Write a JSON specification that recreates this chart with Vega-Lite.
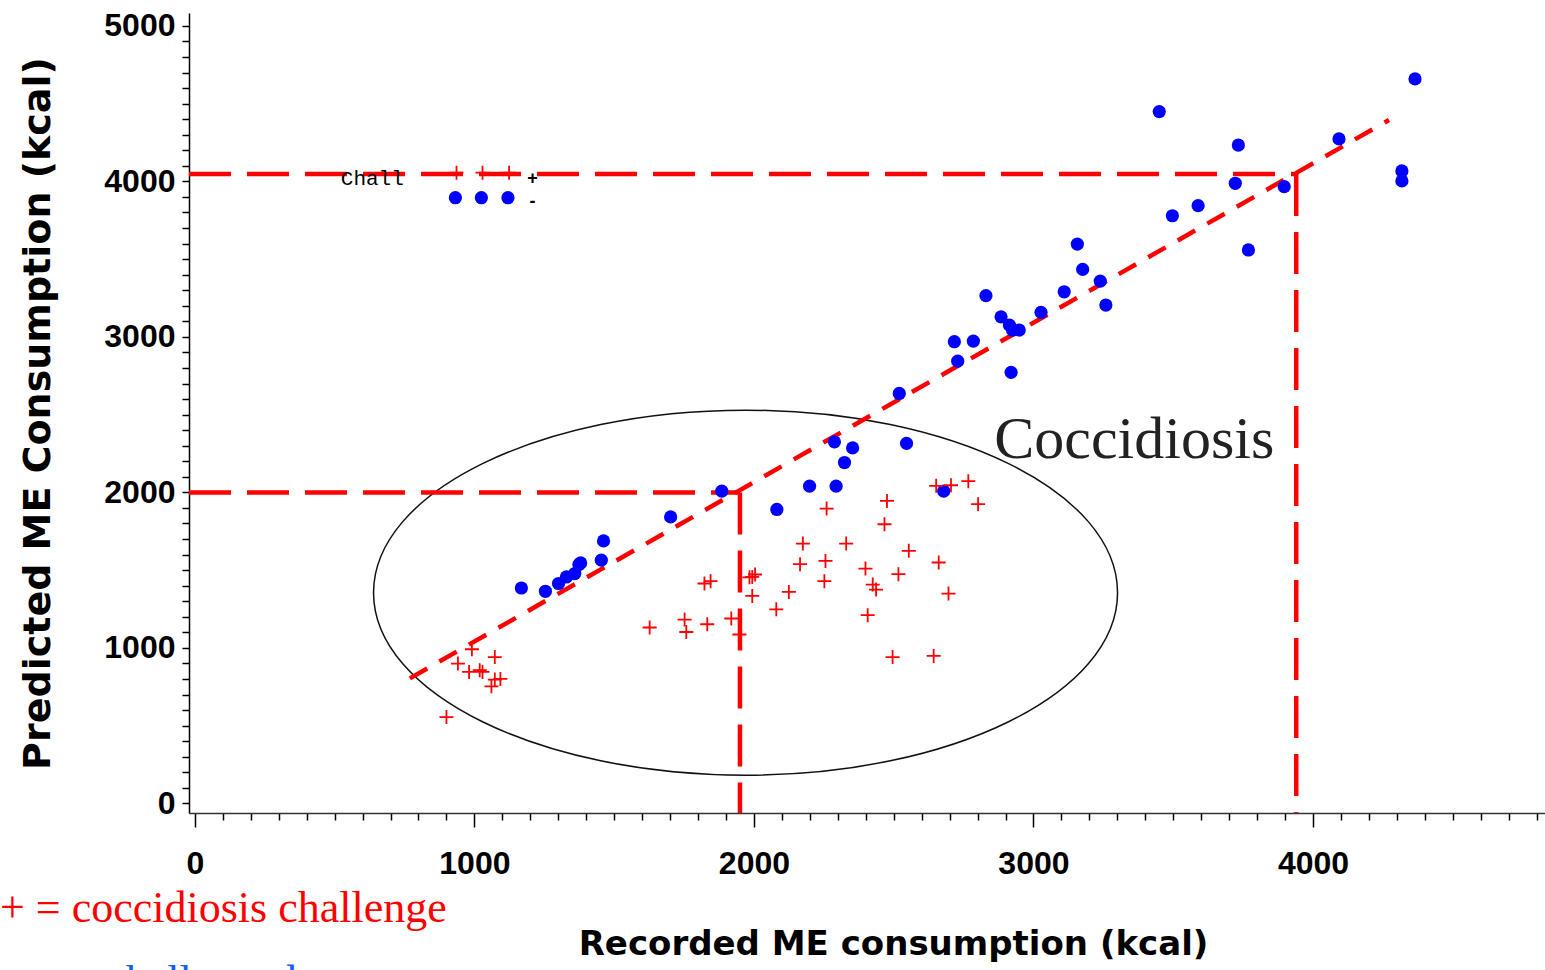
{
  "$schema": "https://vega.github.io/schema/vega-lite/v6.json",
  "width": 1356,
  "height": 800,
  "autosize": {"type": "none"},
  "padding": {"left": 189, "top": 13, "right": 0, "bottom": 157},
  "background": "white",
  "config": {"view": {"stroke": null}},
  "datasets": {
    "pts": [
      {"x": 991, "y": 991, "g": "c"}, {"x": 941, "y": 899, "g": "c"}, {"x": 981, "y": 845, "g": "c"}, {"x": 1019, "y": 856, "g": "c"},
      {"x": 1029, "y": 845, "g": "c"}, {"x": 1073, "y": 941, "g": "c"}, {"x": 1061, "y": 753, "g": "c"}, {"x": 1073, "y": 796, "g": "c"},
      {"x": 1093, "y": 800, "g": "c"}, {"x": 900, "y": 555, "g": "c"}, {"x": 1627, "y": 1131, "g": "c"}, {"x": 1752, "y": 1182, "g": "c"},
      {"x": 1758, "y": 1102, "g": "c"}, {"x": 1833, "y": 1152, "g": "c"}, {"x": 1823, "y": 1414, "g": "c"}, {"x": 1845, "y": 1429, "g": "c"},
      {"x": 1919, "y": 1189, "g": "c"}, {"x": 1948, "y": 1086, "g": "c"}, {"x": 1994, "y": 1456, "g": "c"}, {"x": 2004, "y": 1472, "g": "c"},
      {"x": 1994, "y": 1334, "g": "c"}, {"x": 1984, "y": 1454, "g": "c"}, {"x": 2080, "y": 1248, "g": "c"}, {"x": 2125, "y": 1360, "g": "c"},
      {"x": 2165, "y": 1538, "g": "c"}, {"x": 2175, "y": 1671, "g": "c"}, {"x": 2256, "y": 1559, "g": "c"}, {"x": 2252, "y": 1429, "g": "c"},
      {"x": 2260, "y": 1896, "g": "c"}, {"x": 2330, "y": 1671, "g": "c"}, {"x": 2399, "y": 1510, "g": "c"}, {"x": 2425, "y": 1407, "g": "c"},
      {"x": 2437, "y": 1375, "g": "c"}, {"x": 2407, "y": 1210, "g": "c"}, {"x": 2467, "y": 1795, "g": "c"}, {"x": 2476, "y": 1945, "g": "c"},
      {"x": 2517, "y": 1474, "g": "c"}, {"x": 2554, "y": 1624, "g": "c"}, {"x": 2496, "y": 941, "g": "c"}, {"x": 2643, "y": 948, "g": "c"},
      {"x": 2661, "y": 1549, "g": "c"}, {"x": 2696, "y": 1349, "g": "c"}, {"x": 2652, "y": 2042, "g": "c"}, {"x": 2705, "y": 2046, "g": "c"},
      {"x": 2767, "y": 2072, "g": "c"}, {"x": 2802, "y": 1924, "g": "c"},
      {"x": 936, "y": 4056, "g": "c"}, {"x": 1029, "y": 4056, "g": "c"}, {"x": 1124, "y": 4056, "g": "c"},
      {"x": 1168, "y": 1385, "g": "u"}, {"x": 1254, "y": 1364, "g": "u"}, {"x": 1301, "y": 1414, "g": "u"}, {"x": 1329, "y": 1456, "g": "u"},
      {"x": 1359, "y": 1478, "g": "u"}, {"x": 1374, "y": 1536, "g": "u"}, {"x": 1380, "y": 1546, "g": "u"}, {"x": 1454, "y": 1564, "g": "u"},
      {"x": 1462, "y": 1688, "g": "u"}, {"x": 1702, "y": 1842, "g": "u"}, {"x": 1885, "y": 2008, "g": "u"}, {"x": 2082, "y": 1890, "g": "u"},
      {"x": 2199, "y": 2040, "g": "u"}, {"x": 2294, "y": 2040, "g": "u"}, {"x": 2324, "y": 2192, "g": "u"}, {"x": 2288, "y": 2325, "g": "u"},
      {"x": 2353, "y": 2286, "g": "u"}, {"x": 2546, "y": 2315, "g": "u"}, {"x": 2679, "y": 2008, "g": "u"}, {"x": 2520, "y": 2636, "g": "u"},
      {"x": 2729, "y": 2844, "g": "u"}, {"x": 2717, "y": 2969, "g": "u"}, {"x": 2785, "y": 2973, "g": "u"}, {"x": 2920, "y": 2772, "g": "u"},
      {"x": 2830, "y": 3265, "g": "u"}, {"x": 2884, "y": 3129, "g": "u"}, {"x": 2914, "y": 3076, "g": "u"}, {"x": 2925, "y": 3044, "g": "u"},
      {"x": 2949, "y": 3044, "g": "u"}, {"x": 3027, "y": 3158, "g": "u"}, {"x": 3110, "y": 3290, "g": "u"}, {"x": 3157, "y": 3597, "g": "u"},
      {"x": 3176, "y": 3434, "g": "u"}, {"x": 3239, "y": 3359, "g": "u"}, {"x": 3259, "y": 3205, "g": "u"}, {"x": 3450, "y": 4449, "g": "u"},
      {"x": 3497, "y": 3779, "g": "u"}, {"x": 3589, "y": 3844, "g": "u"}, {"x": 3722, "y": 3988, "g": "u"}, {"x": 3733, "y": 4234, "g": "u"},
      {"x": 3769, "y": 3559, "g": "u"}, {"x": 3897, "y": 3966, "g": "u"}, {"x": 4093, "y": 4273, "g": "u"}, {"x": 4365, "y": 4659, "g": "u"},
      {"x": 4318, "y": 4067, "g": "u"}, {"x": 4318, "y": 4003, "g": "u"},
      {"x": 932, "y": 3895, "g": "u"}, {"x": 1025, "y": 3895, "g": "u"}, {"x": 1120, "y": 3895, "g": "u"}
    ],
    "refs": [
      {"x": -21, "y": 4048, "x2": 3940, "y2": 4048},
      {"x": 3940, "y": 4048, "x2": 3940, "y2": -62},
      {"x": -21, "y": 2000, "x2": 1950, "y2": 2000},
      {"x": 1950, "y": 2000, "x2": 1950, "y2": -62}
    ],
    "fit": [{"x": 769, "y": 804, "x2": 4272, "y2": 4395}],
    "ell": [{"x": 1970, "y": 1355}],
    "labels": [
      {"x": 2860, "y": 2220, "t": "Coccidiosis", "k": "cocc"},
      {"x": 522, "y": 3977, "t": "Chall", "k": "chall"},
      {"x": 1208, "y": 4015, "t": "+", "k": "sym"},
      {"x": 1208, "y": 3867, "t": "-", "k": "sym"},
      {"x": -697, "y": -766, "t": "+ = coccidiosis challenge", "k": "leg1"},
      {"x": -697, "y": -1236, "t": "• = unchallenged", "k": "leg2"}
    ]
  },
  "encoding": {
    "x": {
      "field": "x", "type": "quantitative",
      "scale": {"domain": [-21, 4830], "nice": false, "zero": false},
      "axis": {
        "values": [0,100,200,300,400,500,600,700,800,900,1000,1100,1200,1300,1400,1500,1600,1700,1800,1900,2000,2100,2200,2300,2400,2500,2600,2700,2800,2900,3000,3100,3200,3300,3400,3500,3600,3700,3800,3900,4000,4100,4200,4300,4400,4500,4600,4700,4800],
        "format": "d",
        "labelExpr": "datum.value % 1000 === 0 ? datum.label : ''",
        "labelOverlap": false,
        "labelFont": "Liberation Sans", "labelFontSize": 32, "labelFontWeight": "bold", "labelColor": "black",
        "labelPadding": 21,
        "tickSize": {"condition": {"test": "datum.value % 1000 === 0", "value": 14}, "value": 7},
        "tickColor": "black", "tickWidth": 1.5,
        "domainColor": "#333", "domainWidth": 1.5,
        "grid": false,
        "title": "Recorded ME consumption (kcal)",
        "titleFont": "DejaVu Sans", "titleFontSize": 34, "titleFontWeight": "bold", "titleColor": "black",
        "titlePadding": 48, "titleX": 704
      }
    },
    "y": {
      "field": "y", "type": "quantitative",
      "scale": {"domain": [-62, 5083], "nice": false, "zero": false},
      "axis": {
        "values": [0,100,200,300,400,500,600,700,800,900,1000,1100,1200,1300,1400,1500,1600,1700,1800,1900,2000,2100,2200,2300,2400,2500,2600,2700,2800,2900,3000,3100,3200,3300,3400,3500,3600,3700,3800,3900,4000,4100,4200,4300,4400,4500,4600,4700,4800,4900,5000],
        "format": "d",
        "labelExpr": "datum.value % 1000 === 0 ? datum.label : ''",
        "labelOverlap": false,
        "labelFont": "Liberation Sans", "labelFontSize": 32, "labelFontWeight": "bold", "labelColor": "black",
        "labelPadding": 7,
        "tickSize": 7, "tickColor": "black", "tickWidth": 1.5,
        "domainColor": "black", "domainWidth": 1.5,
        "grid": false,
        "title": "Predicted ME Consumption (kcal)",
        "titleFont": "DejaVu Sans", "titleFontSize": 38, "titleFontWeight": "bold", "titleColor": "black",
        "titlePadding": 46
      }
    }
  },
  "layer": [
    {
      "data": {"name": "ell"},
      "mark": {"type": "point", "shape": "M-1,0A1,0.4906,0,1,0,1,0A1,0.4906,0,1,0,-1,0Z", "size": 553536, "filled": false, "color": "#111", "strokeWidth": 1.5, "opacity": 1}
    },
    {
      "data": {"name": "refs"},
      "mark": {"type": "rule", "color": "#ff0000", "strokeWidth": 4.5, "strokeDash": [42, 16]},
      "encoding": {"x2": {"field": "x2"}, "y2": {"field": "y2"}}
    },
    {
      "data": {"name": "fit"},
      "mark": {"type": "rule", "color": "#ff0000", "strokeWidth": 4.5, "strokeDash": [20, 14]},
      "encoding": {"x2": {"field": "x2"}, "y2": {"field": "y2"}}
    },
    {
      "data": {"name": "pts"},
      "transform": [{"filter": "datum.g === 'u'"}],
      "mark": {"type": "point", "shape": "circle", "filled": true, "color": "#0000ff", "size": 175, "opacity": 1}
    },
    {
      "data": {"name": "pts"},
      "transform": [{"filter": "datum.g === 'c'"}],
      "mark": {"type": "point", "shape": "M-1,0H1M0,-1V1", "filled": false, "color": "#ff0000", "size": 196, "strokeWidth": 1.8, "opacity": 1}
    },
    {
      "data": {"name": "labels"},
      "transform": [{"filter": "datum.k === 'cocc'"}],
      "mark": {"type": "text", "align": "left", "baseline": "alphabetic", "font": "Liberation Serif", "fontSize": 60, "color": "#222"},
      "encoding": {"text": {"field": "t"}}
    },
    {
      "data": {"name": "labels"},
      "transform": [{"filter": "datum.k === 'chall'"}],
      "mark": {"type": "text", "align": "left", "baseline": "alphabetic", "font": "Liberation Mono", "fontSize": 21, "color": "black"},
      "encoding": {"text": {"field": "t"}}
    },
    {
      "data": {"name": "labels"},
      "transform": [{"filter": "datum.k === 'sym'"}],
      "mark": {"type": "text", "align": "center", "baseline": "middle", "font": "Liberation Sans", "fontSize": 18, "fontWeight": "bold", "color": "black"},
      "encoding": {"text": {"field": "t"}}
    },
    {
      "data": {"name": "labels"},
      "transform": [{"filter": "datum.k === 'leg1'"}],
      "mark": {"type": "text", "align": "left", "baseline": "alphabetic", "font": "Liberation Serif", "fontSize": 44, "color": "#ff0000"},
      "encoding": {"text": {"field": "t"}}
    },
    {
      "data": {"name": "labels"},
      "transform": [{"filter": "datum.k === 'leg2'"}],
      "mark": {"type": "text", "align": "left", "baseline": "alphabetic", "font": "Liberation Serif", "fontSize": 44, "color": "#0f5ef5"},
      "encoding": {"text": {"field": "t"}}
    }
  ]
}
